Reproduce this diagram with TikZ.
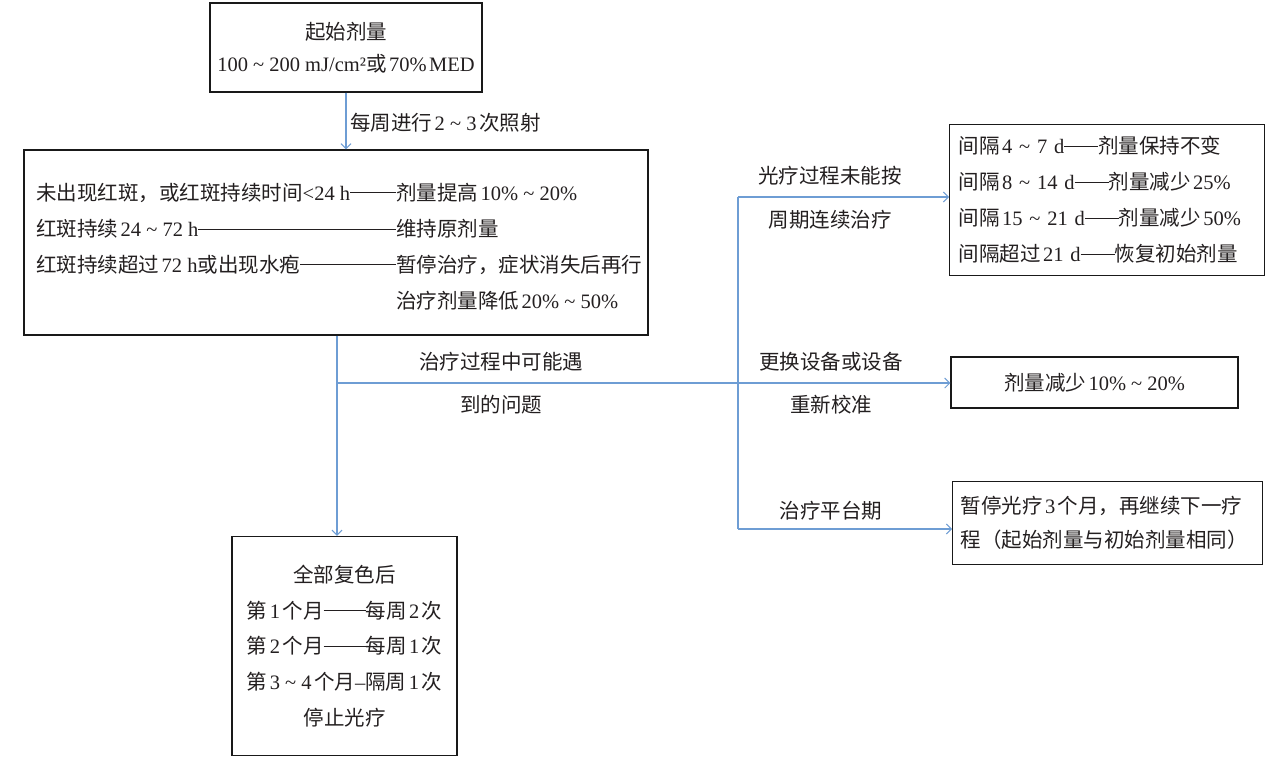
\documentclass[tikz,border=0pt]{standalone}
\usepackage{fontspec}
\setmainfont{Liberation Serif}
\newfontfamily\cjk{Noto Sans CJK SC}
\usetikzlibrary{arrows.meta}
\definecolor{connblue}{RGB}{110,157,212}
\definecolor{ink}{RGB}{35,31,32}
\newcommand\zh[1]{{\cjk #1}}
\newcommand\tld{\textasciitilde}
\newcommand\gp{\hspace{2.5pt}}
\newcommand\dashfill{\leaders\hrule height 8.1pt depth -7.3pt\hfill}
\newcommand\ddash[1][34pt]{\rule[7.3pt]{#1}{0.8pt}}
\tikzset{
  box/.style={draw=black!90, line width=1.2pt, inner sep=0pt, text=ink},
  lbl/.style={inner sep=0pt, text=ink},
  link/.style={draw=connblue, line width=1.1pt},
  arr/.style={link, -{Straight Barb[length=5pt,width=10pt,line width=1pt]}},
}
\begin{document}
\begin{tikzpicture}[x=1pt, y=-1pt, font=\fontsize{20.5}{24}\selectfont]
\useasboundingbox (0,0) rectangle (1282,768);

% box 1
\node[box, minimum width=272pt, minimum height=89pt, align=center,
      font=\fontsize{20.5}{32}\selectfont] (b1) at (346,47.5)
  {\zh{起始剂量}\\100~\tld~200 mJ/cm²\zh{或}\gp 70\%\gp MED};

% box 2
\node[box, minimum width=624pt, minimum height=185pt] (b2) at (336,242.5) {};
\node[lbl, anchor=west] (l1) at (36,193)
  {\makebox[360pt][l]{\zh{未出现红斑，或红斑持续时间}<24 h\dashfill}\zh{剂量提高}\gp 10\%~\tld~20\%};
\node[lbl, anchor=west] (l2) at (36,229)
  {\makebox[360pt][l]{\zh{红斑持续}\gp 24~\tld~72 h\dashfill}\zh{维持原剂量}};
\node[lbl, anchor=west] (l3) at (36,265)
  {\makebox[360pt][l]{\zh{红斑持续超过}\gp 72 h\zh{或出现水疱}\dashfill}\zh{暂停治疗，症状消失后再行}};
\node[lbl, anchor=west] (l4) at (396,301)
  {\zh{治疗剂量降低}\gp 20\%~\tld~50\%};

% box 3
\node[box, anchor=north west, minimum width=315pt, minimum height=151pt,
      text width=297pt, inner xsep=9pt, align=left,
      font=\fontsize{20.5}{36}\selectfont] (b3) at (949,124)
  {\zh{间隔}\gp 4~\tld~7 d\ddash\zh{剂量保持不变}\\
   \zh{间隔}\gp 8~\tld~14 d\ddash\zh{剂量减少}\gp 25\%\\
   \zh{间隔}\gp 15~\tld~21 d\ddash\zh{剂量减少}\gp 50\%\\
   \zh{间隔超过}\gp 21 d\ddash\zh{恢复初始剂量}};

% box 4
\node[box, minimum width=287pt, minimum height=51pt] (b4) at (1094.5,382.5)
  {\zh{剂量减少}\gp 10\%~\tld~20\%};

% box 5
\node[box, anchor=north west, minimum width=310pt, minimum height=83pt,
      text width=294pt, inner xsep=8pt, align=left,
      font=\fontsize{20.5}{34}\selectfont] (b5) at (952,481)
  {\zh{暂停光疗}\gp 3\gp\zh{个月，再继续下一疗}\\
   \zh{程（起始剂量与初始剂量相同）}};

% box 6
\node[box, anchor=south, minimum width=225pt, minimum height=219pt, align=center,
      font=\fontsize{20.5}{35.75}\selectfont] (b6) at (344.5,756)
  {\zh{全部复色后}\\
   \zh{第}\gp 1\gp\zh{个月}\ddash[42pt]\zh{每周}\gp 2\gp\zh{次}\\
   \zh{第}\gp 2\gp\zh{个月}\ddash[42pt]\zh{每周}\gp 1\gp\zh{次}\\
   \zh{第}\gp 3~\tld~4\gp\zh{个月}–\zh{隔周}\gp 1\gp\zh{次}\\
   \zh{停止光疗}};

% connector coordinates
\coordinate (j1) at (337,383);
\coordinate (rt) at (738,197);
\coordinate (rb) at (738,529);

% connectors
\draw[arr] (b1.south) -- (b1.south |- b2.north);
\draw[link] (b2.south -| j1) -- (j1);
\draw[arr] (j1) -- (j1 |- b6.north);
\draw[arr] (j1) -- (j1 -| b4.west);
\draw[link] (rt) -- (rb);
\draw[arr] (rt) -- (rt -| b3.west);
\draw[arr] (rb) -- (rb -| b5.west);

% labels
\node[lbl, anchor=west] (w) at (350,123) {\zh{每周进行}\gp 2~\tld~3\gp\zh{次照射}};
\node[lbl] (q1) at (501,362) {\zh{治疗过程中可能遇}};
\node[lbl] (q2) at (501,405) {\zh{到的问题}};
\node[lbl] (p1) at (830,176) {\zh{光疗过程未能按}};
\node[lbl] (p2) at (830,220) {\zh{周期连续治疗}};
\node[lbl] (e1) at (831,362) {\zh{更换设备或设备}};
\node[lbl] (e2) at (831,405) {\zh{重新校准}};
\node[lbl] (pt) at (831,511) {\zh{治疗平台期}};
\end{tikzpicture}
\end{document}
